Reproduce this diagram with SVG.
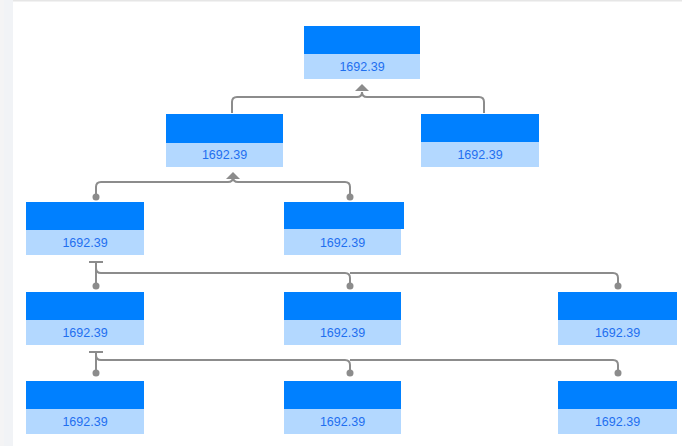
<svg xmlns="http://www.w3.org/2000/svg" width="682" height="446" viewBox="0 0 682 446">
<style>
.hd{fill:#0080ff}
.bd{fill:#b3d8ff}
.val{font-family:"Liberation Sans",Arial,sans-serif;font-size:12.5px;fill:#1f6fef;text-anchor:middle}
.ln{fill:none;stroke:#8c8c8c;stroke-width:2}
.dot{fill:#8c8c8c}
</style>
<rect x="0" y="0" width="682" height="446" fill="#ffffff"/>
<rect x="0" y="0" width="13" height="446" fill="#f4f4f5"/>
<rect x="4" y="0" width="9" height="446" fill="#f1f3f6"/>
<rect x="13" y="0" width="669" height="1.5" fill="#e6e6e6"/>
<g id="connectors">
  <path class="ln" d="M232,113 V102 Q232,97 237,97 H357 Q362,97 362,92"/>
  <path class="ln" d="M484,113 V102 Q484,97 479,97 H367 Q362,97 362,92"/>
  <polygon class="dot" points="362,84 355,91 369,91"/>
  <path class="ln" d="M96,197 V187 Q96,182 101,182 H228 Q233,182 233,177"/>
  <path class="ln" d="M350,197 V187 Q350,182 345,182 H238 Q233,182 233,177"/>
  <polygon class="dot" points="233,172 226,179 240,179"/>
  <circle class="dot" cx="96" cy="197" r="3.5"/>
  <circle class="dot" cx="350" cy="197" r="3.5"/>
  <path class="ln" d="M89,262 H103"/>
  <path class="ln" d="M96,262 V287"/>
  <path class="ln" d="M96,262 V268 Q96,273 101,273 H345 Q350,273 350,278 V287"/>
  <path class="ln" d="M350,273 H613 Q618,273 618,278 V287"/>
  <circle class="dot" cx="96" cy="286" r="3.5"/>
  <circle class="dot" cx="350" cy="286" r="3.5"/>
  <circle class="dot" cx="618" cy="286" r="3.5"/>
  <path class="ln" d="M89,352 H103"/>
  <path class="ln" d="M96,352 V374"/>
  <path class="ln" d="M96,352 V355 Q96,360 101,360 H345 Q350,360 350,365 V374"/>
  <path class="ln" d="M350,360 H613 Q618,360 618,365 V374"/>
  <circle class="dot" cx="96" cy="373" r="3.5"/>
  <circle class="dot" cx="350" cy="373" r="3.5"/>
  <circle class="dot" cx="618" cy="373" r="3.5"/>
</g>
<g id="n0"><rect class="hd" x="304" y="26" width="116" height="28"/><rect class="bd" x="304" y="54" width="116" height="25"/><text class="val" x="362" y="71">1692.39</text></g>
<g id="n1"><rect class="hd" x="166" y="114" width="117" height="29"/><rect class="bd" x="166" y="143" width="117" height="24"/><text class="val" x="224.5" y="159">1692.39</text></g>
<g id="n2"><rect class="hd" x="421" y="114" width="118" height="28"/><rect class="bd" x="421" y="142" width="118" height="25"/><text class="val" x="480" y="159">1692.39</text></g>
<g id="n3"><rect class="hd" x="26" y="202" width="118" height="28"/><rect class="bd" x="26" y="230" width="118" height="25"/><text class="val" x="85" y="247">1692.39</text></g>
<g id="n4"><rect class="hd" x="284" y="202" width="120" height="27"/><rect class="bd" x="284" y="229" width="117" height="26"/><text class="val" x="342.5" y="247">1692.39</text></g>
<g id="n5"><rect class="hd" x="26" y="292" width="118" height="28"/><rect class="bd" x="26" y="320" width="118" height="25"/><text class="val" x="85" y="337">1692.39</text></g>
<g id="n6"><rect class="hd" x="284" y="292" width="117" height="28"/><rect class="bd" x="284" y="320" width="117" height="25"/><text class="val" x="342.5" y="337">1692.39</text></g>
<g id="n7"><rect class="hd" x="558" y="292" width="119" height="28"/><rect class="bd" x="558" y="320" width="119" height="25"/><text class="val" x="617.5" y="337">1692.39</text></g>
<g id="n8"><rect class="hd" x="26" y="381" width="118" height="28"/><rect class="bd" x="26" y="409" width="118" height="25"/><text class="val" x="85" y="426">1692.39</text></g>
<g id="n9"><rect class="hd" x="284" y="381" width="117" height="28"/><rect class="bd" x="284" y="409" width="117" height="25"/><text class="val" x="342.5" y="426">1692.39</text></g>
<g id="n10"><rect class="hd" x="558" y="381" width="119" height="28"/><rect class="bd" x="558" y="409" width="119" height="25"/><text class="val" x="617.5" y="426">1692.39</text></g>
</svg>
